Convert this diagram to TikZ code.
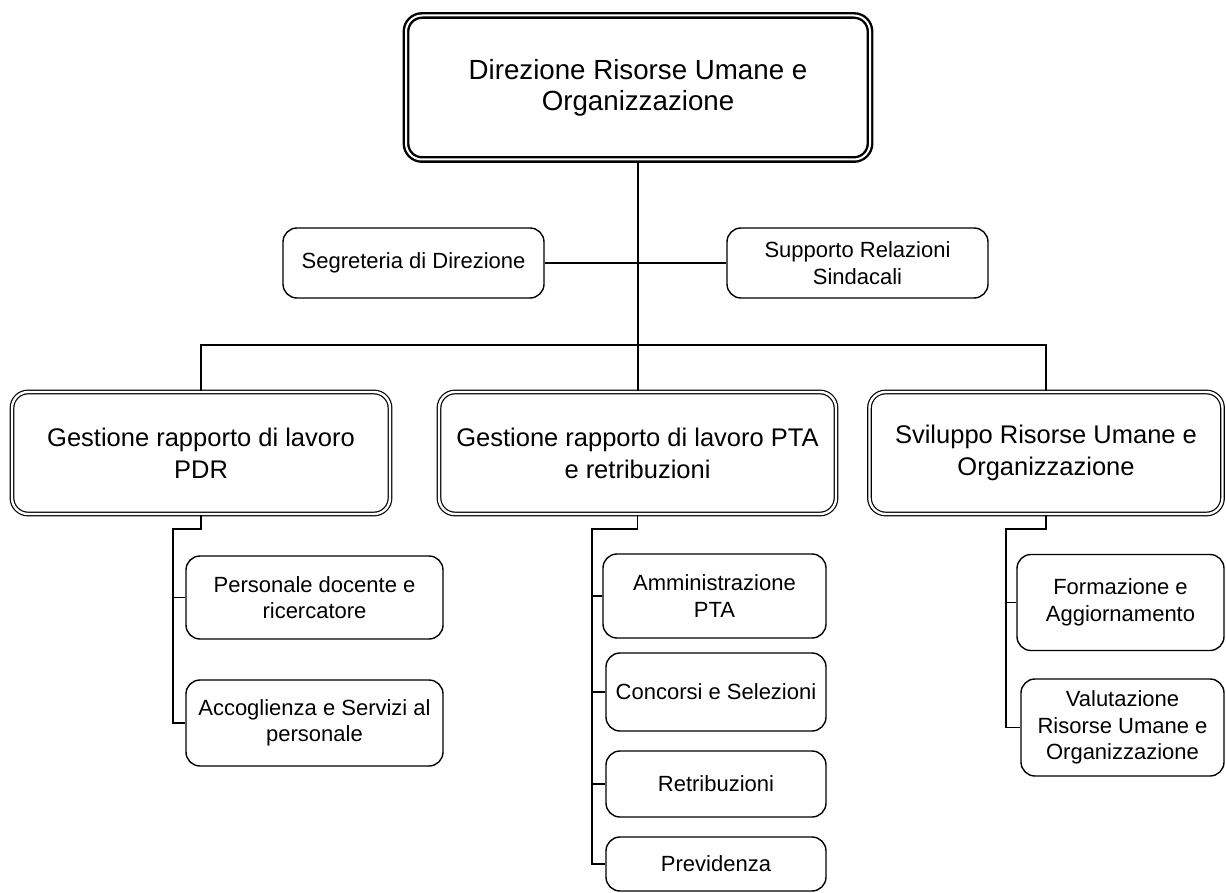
\documentclass[tikz,border=0pt]{standalone}
\usepackage{fontspec}
\setmainfont{Liberation Sans}
\usetikzlibrary{calc}
\tikzstyle{direzione}=[draw, double, double distance=1pt, line width=1.2pt, rounded corners=8pt, align=center, inner sep=0pt, font=\fontsize{13.85}{15.5}\selectfont]
\tikzstyle{area}=[draw, double, double distance=1.2pt, line width=0.6pt, rounded corners=8pt, align=center, inner sep=0pt, minimum height=61pt, font=\fontsize{12.75}{16}\selectfont]
\tikzstyle{ufficio}=[draw, line width=0.7pt, rounded corners=7pt, align=center, inner sep=0pt, font=\fontsize{11}{13.3}\selectfont]
\tikzstyle{link}=[line width=0.8pt]

\begin{document}
\begin{tikzpicture}[x=0.5pt,y=-0.5pt]
\useasboundingbox[fill=white] (0,0) rectangle (1226,893);
\node[direzione, minimum width=232pt, minimum height=72pt] (dir) at (638,87.5) {Direzione Risorse Umane e\\Organizzazione};
\node[ufficio, minimum width=130.5pt, minimum height=35pt] (segr) at (413.5,263) {Segreteria di Direzione};
\node[ufficio, minimum width=130.5pt, minimum height=35pt] (sind) at (857.5,263) {Supporto Relazioni\\Sindacali};
\node[area, minimum width=189pt] (pdr) at (201,453) {Gestione rapporto di lavoro\\PDR};
\node[area, minimum width=198.5pt] (pta) at (637.5,453) {Gestione rapporto di lavoro PTA\\e retribuzioni};
\node[area, minimum width=176.5pt] (svil) at (1046,453) {Sviluppo Risorse Umane e\\Organizzazione};
\node[ufficio, minimum width=128.5pt, minimum height=41.5pt] (pers) at (314.5,597.5) {Personale docente e\\ricercatore};
\node[ufficio, minimum width=128.5pt, minimum height=43pt] (acco) at (314.5,723) {Accoglienza e Servizi al\\personale};
\node[ufficio, minimum width=111.5pt, minimum height=42pt] (amm) at (714.5,596) {Amministrazione\\PTA};
\node[ufficio, minimum width=110pt, minimum height=39pt] (conc) at (716,692) {Concorsi e Selezioni};
\node[ufficio, minimum width=110pt, minimum height=33pt] (retr) at (716,784) {Retribuzioni};
\node[ufficio, minimum width=110pt, minimum height=27pt] (prev) at (716,864) {Previdenza};
\node[ufficio, minimum width=103.5pt, minimum height=48pt] (form) at (1120.5,602.5) {Formazione e\\Aggiornamento};
\node[ufficio, minimum width=101.5pt, minimum height=48.5pt] (valu) at (1122.5,727.5) {Valutazione\\Risorse Umane e\\Organizzazione};
\coordinate (bus) at (636,345);
\coordinate (pdrK) at (173,529);
\coordinate (ptaK) at (592,529);
\coordinate (svilK) at (1006,529);
\draw[link] (dir.south) -- (dir.south |- pta.north);
\draw[link] (segr) -- (sind);
\draw[link] (pdr.north) |- (bus) -| (svil.north);
\draw[link] (pdr.south) |- (pdrK) |- (acco.west);
\draw[link] (pdrK) |- (pers.west);
\draw[link] (pta.south) |- (ptaK) |- (prev.west);
\foreach \n in {amm,conc,retr}
	\draw[link] (ptaK) |- (\n.west);
\draw[link] (svil.south) |- (svilK) |- (valu.west);
\draw[link] (svilK) |- (form.west);
\end{tikzpicture}
\end{document}
